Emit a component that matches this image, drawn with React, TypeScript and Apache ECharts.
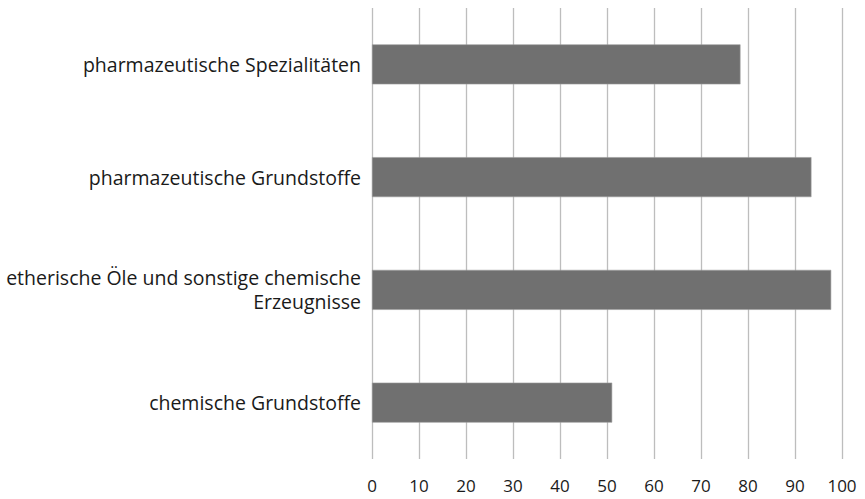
import React, { useEffect, useRef } from "react";
import * as echarts from "echarts";

const categories = [
  "pharmazeutische Spezialitäten",
  "pharmazeutische Grundstoffe",
  "etherische Öle und sonstige chemische\nErzeugnisse",
  "chemische Grundstoffe",
];
const values = [78.4, 93.5, 97.7, 51.1];
const xMin = 0;
const xMax = 100;
const xInterval = 10;

export default function App() {
  const ref = useRef<HTMLDivElement>(null);
  useEffect(() => {
    if (!ref.current) return;
    const chart = echarts.init(ref.current, null, { renderer: "svg" });
    chart.setOption({
      animation: false,
      backgroundColor: "#ffffff",
      grid: { left: 372, right: 23, top: 8, bottom: 40, containLabel: false },
      xAxis: {
        type: "value",
        min: xMin,
        max: xMax,
        interval: xInterval,
        axisLine: { show: false },
        axisTick: { show: false },
        axisLabel: {
          color: "#1a1a1a",
          fontFamily: "Open Sans",
          fontSize: 17,
          margin: 18,
        },
        splitLine: { show: true, lineStyle: { color: "#bdbdbd", width: 1.3 } },
      },
      yAxis: {
        type: "category",
        data: categories,
        inverse: true,
        axisLine: { show: false },
        axisTick: { show: false },
        axisLabel: {
          color: "#1a1a1a",
          fontFamily: "Open Sans",
          fontSize: 19.5,
          margin: 11,
          lineHeight: 24,
          align: "right",
        },
        splitLine: { show: false },
      },
      series: [
        {
          type: "bar",
          data: values,
          barWidth: 40,
          itemStyle: { color: "#707070", borderColor: "#9a9a9a", borderWidth: 0.6 },
        },
      ],
    });
    return () => chart.dispose();
  }, []);
  return (
    <div
      ref={ref}
      style={{ position: "fixed", left: 0, top: 0, width: 865, height: 499 }}
    />
  );
}
